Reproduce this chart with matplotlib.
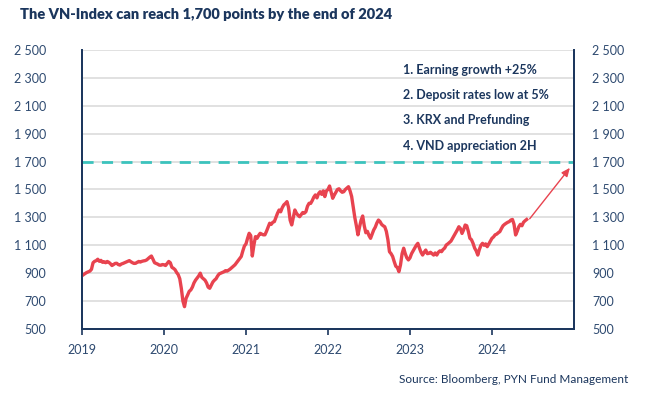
#!/usr/bin/env python3
"""
VN-Index weekly closes 2019 - mid 2024 with a 1,700 target line.
"""

import numpy as np
import matplotlib.pyplot as plt
from matplotlib.ticker import FuncFormatter

# weekly closes (one list per year)
vn_2019 = [882, 890, 898, 905, 910, 915, 928, 975, 985, 990, 1000, 985, 992, 978,
           982, 975, 984, 978, 968, 955, 962, 970, 971, 962, 958, 966, 970, 975,
           980, 985, 990, 982, 975, 970, 971, 978, 984, 980, 985, 988, 990, 995,
           1005, 1015, 1023, 1000, 975, 970, 965, 958, 957, 962]
vn_2020 = [960, 955, 970, 984, 975, 942, 935, 925, 905, 890, 860, 790, 700, 660,
           720, 744, 770, 780, 800, 830, 850, 865, 880, 900, 870, 860, 850, 830,
           800, 792, 815, 837, 850, 860, 880, 895, 900, 905, 910, 918, 915, 922,
           930, 940, 951, 960, 975, 990, 1005, 1020, 1060, 1095]
vn_2021 = [1110, 1150, 1186, 1170, 1023, 1100, 1162, 1150, 1170, 1186, 1180, 1175,
           1175, 1200, 1230, 1258, 1250, 1265, 1270, 1300, 1330, 1353, 1340, 1370,
           1390, 1400, 1413, 1370, 1280, 1246, 1300, 1353, 1330, 1315, 1305, 1320,
           1335, 1330, 1341, 1380, 1401, 1400, 1420, 1445, 1461, 1440, 1470, 1484,
           1465, 1490, 1449, 1490]
vn_2022 = [1500, 1525, 1480, 1437, 1460, 1480, 1500, 1505, 1490, 1480, 1484, 1500,
           1510, 1520, 1490, 1450, 1377, 1300, 1240, 1175, 1230, 1280, 1310, 1240,
           1190, 1200, 1170, 1150, 1180, 1210, 1230, 1260, 1281, 1270, 1250, 1240,
           1233, 1200, 1140, 1054, 1040, 1020, 983, 950, 940, 911, 960, 1040, 1079,
           1040, 1010, 995]
vn_2023 = [1010, 1040, 1060, 1080, 1100, 1114, 1080, 1050, 1030, 1050, 1066, 1040,
           1042, 1050, 1040, 1030, 1045, 1030, 1050, 1060, 1054, 1070, 1080, 1102,
           1110, 1120, 1130, 1150, 1170, 1190, 1210, 1233, 1220, 1185, 1210, 1245,
           1240, 1200, 1150, 1140, 1114, 1080, 1060, 1030, 1070, 1100, 1114, 1100,
           1110, 1090, 1110, 1130]
vn_2024 = [1150, 1160, 1175, 1180, 1190, 1198, 1220, 1240, 1250, 1258, 1265, 1270,
           1281, 1285, 1250, 1174, 1200, 1233, 1250, 1240, 1265, 1276, 1285]

target = 1700
arrow_start = (2024.46, 1290)
arrow_end = (2024.95, 1655)

drivers = ["1. Earning growth +25%",
           "2. Deposit rates low at 5%",
           "3. KRX and Prefunding",
           "4. VND appreciation 2H"]
driver_y = [2355, 2175, 1995, 1815]

years = [2019, 2020, 2021, 2022, 2023, 2024]
yticks = list(range(500, 2501, 200))

NAVY = "#1b365d"
TICK = "#2e4a70"
RED = "#e8434f"
TEAL = "#3cc3bd"

# build the time axis: weekly points inside each year
series = [vn_2019, vn_2020, vn_2021, vn_2022, vn_2023, vn_2024]
t = np.concatenate([yr + np.arange(len(v)) / 52.0 for yr, v in zip(years, series)])
vals = np.concatenate([np.array(v, dtype=float) for v in series])

plt.rcParams['font.family'] = ['Lato', 'DejaVu Sans']

fig = plt.figure(figsize=(6.63, 3.98), dpi=100)
ax = fig.add_axes([0.1237, 0.1734, 0.742, 0.701])

ax.set_xlim(2019, 2025)
ax.set_ylim(500, 2500)

for y in yticks:
    ax.axhline(y, color="#dcdcdc", lw=1.2, zorder=0)

ax.axhline(target, color=TEAL, lw=2.0, ls=(0, (4, 3)), zorder=2)
ax.plot(t, vals, color=RED, lw=2.4, zorder=3)

ax.annotate("", xy=arrow_end, xytext=arrow_start,
            arrowprops=dict(arrowstyle="-|>,head_length=0.5,head_width=0.22",
                            color=RED, lw=1.0, shrinkA=0, shrinkB=0))

for txt, y in zip(drivers, driver_y):
    ax.text(2022.92, y, txt, fontsize=9, color=NAVY, fontweight='bold', va='center')

fmt = FuncFormatter(lambda v, p: f"{int(v):,}".replace(",", " "))
ax.set_yticks(yticks)
ax.yaxis.set_major_formatter(fmt)
ax.tick_params(axis='y', length=0, labelsize=9, labelcolor=TICK, pad=26)

ax2 = ax.twinx()
ax2.set_ylim(500, 2500)
ax2.set_yticks(yticks)
ax2.yaxis.set_major_formatter(fmt)
ax2.tick_params(axis='y', length=0, labelsize=9, labelcolor=TICK, pad=13)

ax.set_xticks(years)
ax.set_xticklabels([str(y) for y in years])
ax.tick_params(axis='x', length=4, width=1.2, color=NAVY, labelsize=9,
               labelcolor=TICK, pad=7)

for a in (ax, ax2):
    a.spines['top'].set_visible(False)
    for s in ('left', 'right', 'bottom'):
        a.spines[s].set_color(NAVY)
        a.spines[s].set_linewidth(1.3)

fig.text(0.030, 0.963, "The VN-Index can reach 1,700 points by the end of 2024",
         fontsize=10.5, fontweight='heavy', color=NAVY, va='center')
fig.text(0.947, 0.047, "Source: Bloomberg, PYN Fund Management",
         fontsize=8.5, color=NAVY, ha='right', va='center')

fig.savefig("out.png", dpi=100)
